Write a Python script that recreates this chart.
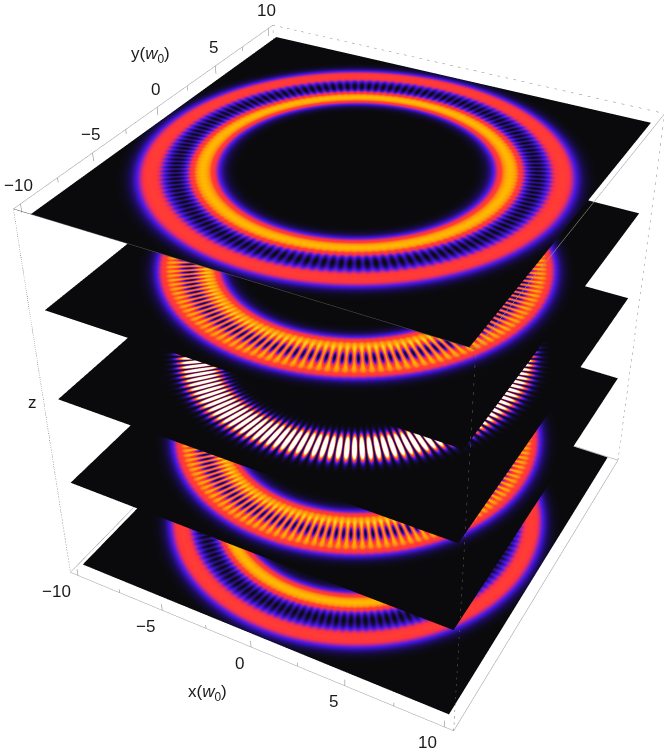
import numpy as np, plotly.graph_objects as go

# Window and the lens of the reference (focal length read from its box corners).
WIN_W, WIN_H = 664, 755
FIG_SIZE = 1233
LEFT, TOP = 356 - FIG_SIZE // 2, 351 - FIG_SIZE // 2

# Axis ticks
tick_labels = [-10, -5, 0, 5, 10]
minor_ticks = [-7.5, -2.5, 2.5, 7.5]

# One entry per plane, top to bottom.
# The fine-fringe field of each plane cannot be read pixel by pixel, so it is
# rebuilt from the ring radii, peaks, widths and fringe count estimated here.
plane_z = [0.964, 0.500, 0.029, -0.452, -0.966]
inner_radius = [6.7, 6.8, 7.45, 6.8, 6.7]
outer_radius = [8.95, 8.4, 7.65, 8.4, 9.0]
inner_peak = [0.76, 0.72, 0.72, 0.72, 0.76]
outer_peak = [0.52, 0.64, 0.72, 0.64, 0.52]
ring_width = [0.95, 0.95, 0.95, 0.95, 0.95]
fringe_count = 144

sunset = [[0, "#0a0a0c"], [0.09, "#1c0c5c"], [0.24, "#4a18e8"], [0.36, "#c82a80"],
          [0.44, "#ff3340"], [0.55, "#ff4030"], [0.65, "#ff8a10"], [0.76, "#ffb800"],
          [0.88, "#ffe98a"], [1, "#ffffff"]]

BOX = 10.46
grid = np.linspace(-10, 10, 601).astype(np.float32)
X, Y = np.meshgrid(grid, grid)
R, TH = np.hypot(X, Y), np.arctan2(Y, X)

fig = go.Figure()
for i, z0 in enumerate(plane_z):
    I1 = inner_peak[i] * np.exp(-2 * (R - inner_radius[i]) ** 2 / ring_width[i] ** 2)
    I2 = outer_peak[i] * np.exp(-2 * (R - outer_radius[i]) ** 2 / ring_width[i] ** 2)
    field = I1 + I2 + 2 * np.sqrt(I1 * I2) * np.cos(fringe_count * TH)
    fig.add_surface(x=grid, y=grid, z=np.full(X.shape, z0, dtype=np.float32),
                    surfacecolor=np.clip(field, 0, 1).astype(np.float32),
                    colorscale=sunset, cmin=0, cmax=1, showscale=False, hoverinfo="skip",
                    lighting=dict(ambient=1, diffuse=0, specular=0, fresnel=0, roughness=1))

def edge(a, b, color, dash):
    fig.add_scatter3d(x=[a[0], b[0]], y=[a[1], b[1]], z=[a[2], b[2]], mode="lines",
                      line=dict(color=color, width=1, dash=dash), hoverinfo="skip", showlegend=False)

B = BOX
c = {"lbb": (-B, -B, -1), "rbb": (B, -B, -1), "rfb": (B, B, -1), "lfb": (-B, B, -1),
     "lbt": (-B, -B, 1), "rbt": (B, -B, 1), "rft": (B, B, 1), "lft": (-B, B, 1)}
GRAY = "#999999"
edge(c["lbb"], c["rbb"], GRAY, "solid")
edge(c["rbb"], c["rfb"], GRAY, "solid")
edge(c["rfb"], c["lfb"], GRAY, "solid")
edge(c["lfb"], c["lbb"], GRAY, "solid")
edge(c["lbt"], c["lft"], GRAY, "solid")
edge(c["lft"], c["rft"], "#888888", "dash")
edge(c["rft"], c["rbt"], GRAY, "solid")
edge(c["rbt"], c["lbt"], "#555555", "solid")
edge(c["lbb"], c["lbt"], "#444444", "dot")
edge(c["rbb"], c["rbt"], "#666666", "dash")
edge(c["rfb"], c["rft"], "#888888", "dash")
edge(c["lfb"], c["lft"], GRAY, "dash")

tx, ty, tz = [], [], []
for v in tick_labels + minor_ticks:
    L = 0.04 if v in tick_labels else 0.022
    tx += [v, v, None, -B, -B, None]
    ty += [-B, -B, None, v, v, None]
    tz += [-1, -1 + L, None, 1, 1 - L, None]
fig.add_scatter3d(x=tx, y=ty, z=tz, mode="lines", line=dict(color="#777777", width=1),
                  hoverinfo="skip", showlegend=False)

FONT = dict(family="Liberation Sans", size=17, color="#1a1a1a")
ann = []
def label(v):
    return str(v).replace("-", "\u2212")
for v in tick_labels:
    ann.append(dict(x=v, y=-B, z=-1, text=label(v), showarrow=False, xanchor="right", xshift=-5, yshift=-16, font=FONT))
    ann.append(dict(x=-B, y=v, z=1, text=label(v), showarrow=False, xshift=-2, yshift=18, font=FONT))
ann.append(dict(x=0, y=-B, z=-1, text="x(<i>w</i><sub>0</sub>)", showarrow=False, xshift=-44, yshift=-46, font=FONT))
ann.append(dict(x=-B, y=0, z=1, text="y(<i>w</i><sub>0</sub>)", showarrow=False, xshift=-7, yshift=52, font=FONT))
ann.append(dict(x=-B, y=-B, z=0, text="z", showarrow=False, xshift=-12, yshift=5, font=FONT))

hidden = dict(showgrid=False, zeroline=False, showline=False, showticklabels=False, ticks="",
              showbackground=False, showspikes=False, title="", visible=False)
fig.update_layout(width=FIG_SIZE, height=FIG_SIZE, margin=dict(l=0, r=0, t=0, b=0),
    paper_bgcolor="white", showlegend=False, hovermode=False,
    scene=dict(domain=dict(x=[0, 1], y=[0, 1]), aspectmode="manual",
        aspectratio=dict(x=1, y=1, z=0.994),
        xaxis=dict(range=[-B, B], **hidden), yaxis=dict(range=[-B, B], **hidden),
        zaxis=dict(range=[-1, 1], **hidden), annotations=ann,
        camera=dict(eye=dict(x=1.295, y=-2.420, z=1.997), center=dict(x=0, y=0, z=0),
                    up=dict(x=-0.002, y=-0.004, z=1), projection=dict(type="perspective"))))

# The lens needs a canvas taller than the window, so the page shows only the part the reference shows.
shift = ("var gd=document.getElementById('{plot_id}');"
         "document.documentElement.style.overflow='hidden';document.body.style.overflow='hidden';"
         f"gd.style.position='fixed';gd.style.left='{LEFT}px';gd.style.top='{TOP}px';")
fig.write_html("out.html", post_script=shift)
